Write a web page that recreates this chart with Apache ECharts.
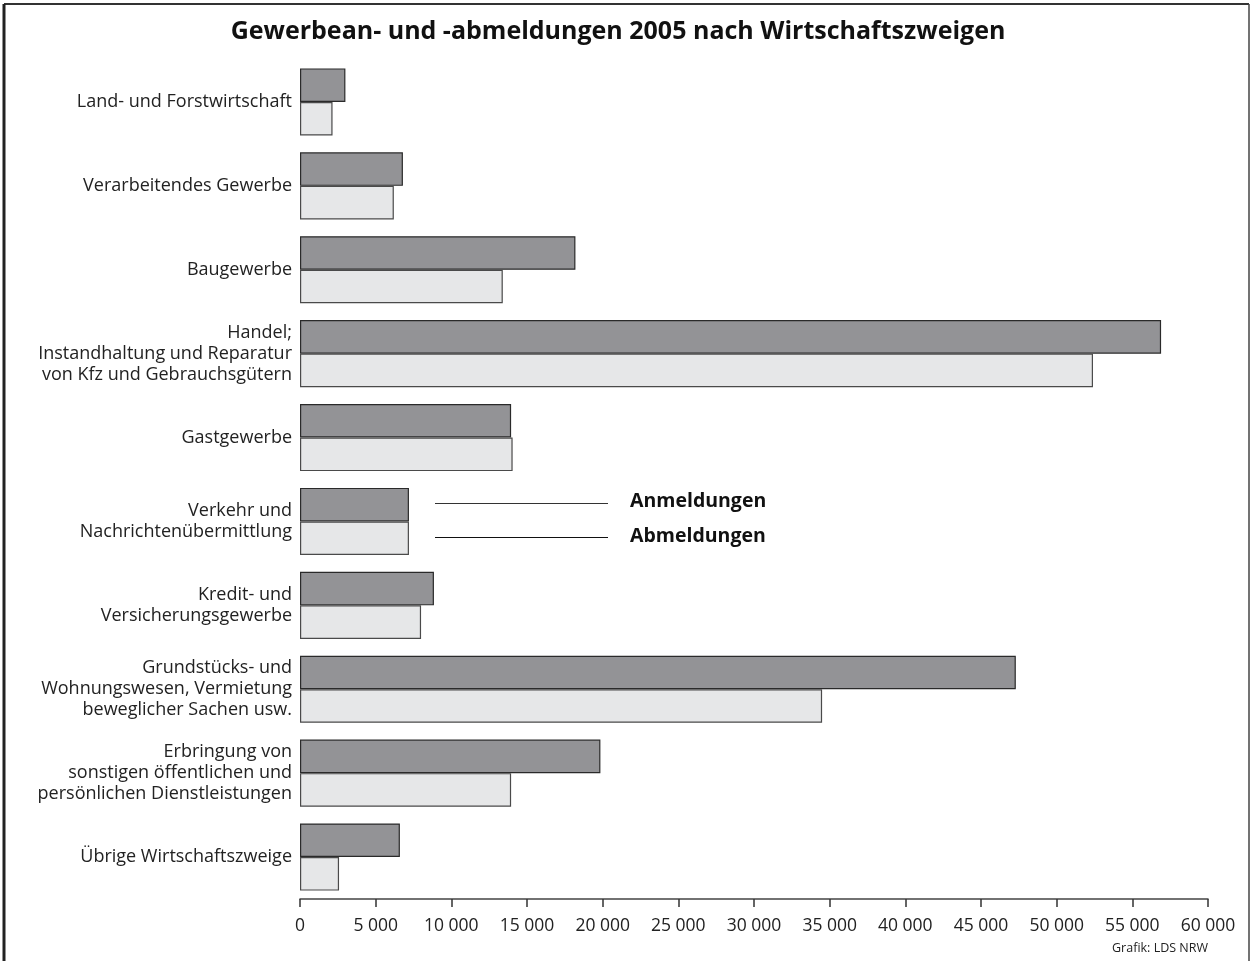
<!DOCTYPE html>
<html><head><meta charset="utf-8">
<script src="https://cdn.jsdelivr.net/npm/echarts@6/dist/echarts.min.js"></script>
<style>html,body{margin:0;padding:0;background:#fff}#c{width:1252px;height:961px}</style>
</head><body><div id="c"></div>
<script>
var categories = [
  'Land- und Forstwirtschaft',
  'Verarbeitendes Gewerbe',
  'Baugewerbe',
  'Handel;\nInstandhaltung und Reparatur\nvon Kfz und Gebrauchsgütern',
  'Gastgewerbe',
  'Verkehr und\nNachrichtenübermittlung',
  'Kredit- und\nVersicherungsgewerbe',
  'Grundstücks- und\nWohnungswesen, Vermietung\nbeweglicher Sachen usw.',
  'Erbringung von\nsonstigen öffentlichen und\npersönlichen Dienstleistungen',
  'Übrige Wirtschaftszweige'
];
var anmeldungen = [3000, 6800, 18200, 56900, 13950, 7200, 8850, 47300, 19850, 6600];
var abmeldungen = [2150, 6200, 13400, 52400, 14050, 7200, 8000, 34500, 13950, 2580];
var xTicks = [0, 5000, 10000, 15000, 20000, 25000, 30000, 35000, 40000, 45000, 50000, 55000, 60000];

var FONT = '"Open Sans", "Noto Sans", sans-serif';
var chart = echarts.init(document.getElementById('c'), null, {renderer: 'canvas'});
function fmt(v){ return String(v).replace(/\B(?=(\d{3})+(?!\d))/g, ' '); }

chart.setOption({
  backgroundColor: '#fff',
  animation: false,
  title: {
    text: 'Gewerbean- und -abmeldungen 2005 nach Wirtschaftszweigen',
    left: 613, textAlign: 'center', top: 14,
    textStyle: {fontFamily: FONT, fontWeight: 'bold', fontSize: 25, color: '#111'}
  },
  grid: {left: 300, right: 44, top: 60, bottom: 62, containLabel: false},
  xAxis: {
    type: 'value', min: xTicks[0], max: xTicks[xTicks.length - 1], interval: 5000,
    axisLine: {show: true, lineStyle: {color: '#444', width: 1.5}},
    axisTick: {show: true, inside: false, length: 8, lineStyle: {color: '#333', width: 1.5}},
    splitLine: {show: false},
    axisLabel: {fontFamily: FONT, fontSize: 17.5, color: '#222', margin: 18, formatter: fmt}
  },
  yAxis: {
    type: 'category', data: categories, inverse: true,
    axisLine: {show: false}, axisTick: {show: false},
    axisLabel: {fontFamily: FONT, fontSize: 18, color: '#222', margin: 8, lineHeight: 21, align: 'right', padding: [5, 0, 0, 0]}
  },
  series: [
    {name: 'Anmeldungen', type: 'bar', data: anmeldungen, barGap: '0%', barCategoryGap: '20%',
     itemStyle: {color: '#939396', borderColor: '#2a2a2a', borderWidth: 1.2}},
    {name: 'Abmeldungen', type: 'bar', data: abmeldungen,
     itemStyle: {color: '#e6e7e8', borderColor: '#4a4a4a', borderWidth: 1.2}}
  ],
  graphic: [
    {type: 'line', shape: {x1: 4, y1: 4, x2: 1249, y2: 4}, style: {stroke: '#333', lineWidth: 2}},
    {type: 'line', shape: {x1: 4, y1: 4, x2: 4, y2: 961}, style: {stroke: '#222', lineWidth: 3}},
    {type: 'line', shape: {x1: 1249, y1: 4, x2: 1249, y2: 961}, style: {stroke: '#444', lineWidth: 1.5}},
    {type: 'line', shape: {x1: 435, y1: 503.5, x2: 608, y2: 503.5}, style: {stroke: '#333', lineWidth: 1.2}},
    {type: 'line', shape: {x1: 435, y1: 537.5, x2: 608, y2: 537.5}, style: {stroke: '#111', lineWidth: 1.2}},
    {type: 'text', left: 630, top: 491, style: {text: 'Anmeldungen', font: 'bold 19.5px ' + FONT, fill: '#111'}},
    {type: 'text', left: 630, top: 526, style: {text: 'Abmeldungen', font: 'bold 19.5px ' + FONT, fill: '#111'}},
    {type: 'text', right: 44, top: 942, style: {text: 'Grafik: LDS NRW', font: '12.5px ' + FONT, fill: '#222', textAlign: 'right'}}
  ]
});
</script></body></html>
